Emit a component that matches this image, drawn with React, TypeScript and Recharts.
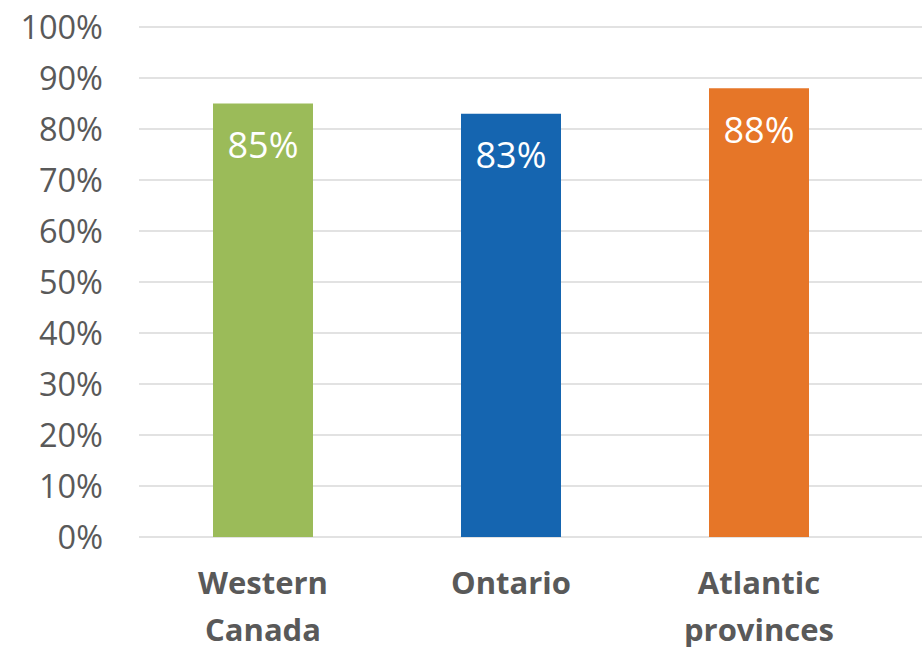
import { BarChart, Bar, XAxis, YAxis, CartesianGrid, Cell, LabelList } from "recharts";

const regions = ["Western Canada", "Ontario", "Atlantic provinces"];
const shares = [85, 83, 88];
const barColors = ["#9BBB59", "#1565B0", "#E67628"];
const yTicks = [0, 10, 20, 30, 40, 50, 60, 70, 80, 90, 100];

const data = regions.map((name, i) => ({ name, value: shares[i] }));

const FONT = "'Open Sans', sans-serif";

function RegionTick(props: any) {
  const { x, y, payload } = props;
  const words = String(payload.value).split(" ");
  return (
    <text
      x={x}
      y={y}
      textAnchor="middle"
      fill="#595959"
      fontFamily={FONT}
      fontWeight="bold"
      fontSize={31}
    >
      {words.map((w, i) => (
        <tspan key={i} x={x} dy={i === 0 ? 49 : 47}>
          {w}
        </tspan>
      ))}
    </text>
  );
}

export default function App() {
  return (
    <div style={{ position: "absolute", left: 0, top: 0, background: "#fff" }}>
      <BarChart
        width={922}
        height={647}
        data={data}
        margin={{ top: 27, right: 0, bottom: 0, left: 0 }}
        barSize={100}
      >
        <CartesianGrid vertical={false} stroke="#D9D9D9" strokeWidth={1.5} />
        <XAxis
          dataKey="name"
          axisLine={false}
          tickLine={false}
          height={110}
          padding={{ left: 0, right: 39 }}
          tick={<RegionTick />}
          interval={0}
        />
        <YAxis
          domain={[0, 100]}
          ticks={yTicks}
          width={139}
          axisLine={false}
          tickLine={false}
          tickMargin={30}
          tickFormatter={(v) => `${v}%`}
          tick={{ fill: "#595959", fontSize: 32.5, fontFamily: FONT }}
        />
        <Bar dataKey="value" isAnimationActive={false}>
          {data.map((d, i) => (
            <Cell key={d.name} fill={barColors[i]} />
          ))}
          <LabelList
            dataKey="value"
            position="insideTop"
            offset={29}
            formatter={(v: any) => `${v}%`}
            fill="#FFFFFF"
            fontSize={36}
            fontFamily={FONT}
          />
        </Bar>
      </BarChart>
    </div>
  );
}
